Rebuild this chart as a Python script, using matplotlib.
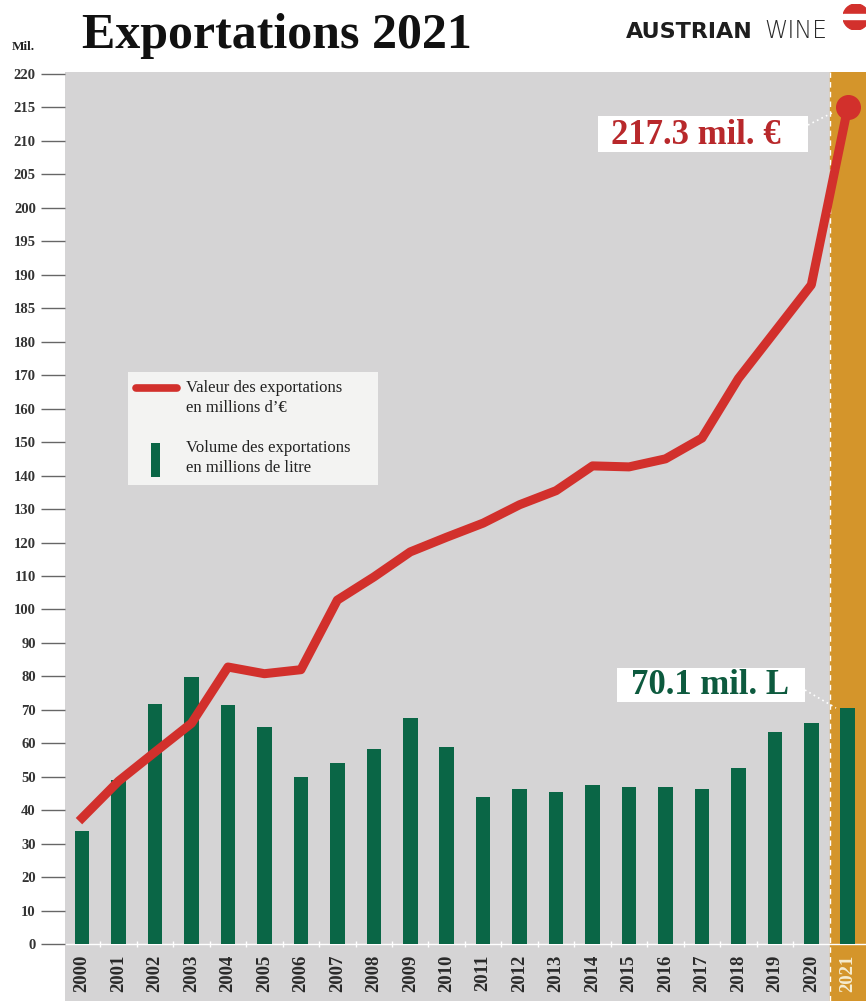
import numpy as np
import matplotlib
matplotlib.use('Agg')
import matplotlib.pyplot as plt
from matplotlib.patches import Rectangle, Wedge
from matplotlib.lines import Line2D

# data
years = list(range(2000, 2022))
valeur = [37.7, 48.7, 57.4, 66.0, 82.8, 80.8, 82.0, 102.8, 109.7, 117.2, 121.6,
          125.8, 131.3, 135.5, 142.9, 142.6, 145.0, 151.2, 169.0, 181.5, 188.5, 215.0]
volume = [33.8, 49.0, 71.7, 79.8, 71.4, 64.9, 49.9, 54.1, 58.3, 67.5, 59.0,
          43.9, 46.3, 45.4, 47.5, 46.9, 46.9, 46.3, 52.6, 63.4, 66.0, 70.6]
yticks = list(range(0, 181, 10)) + list(range(185, 221, 5))

W, H = 866, 1001
serif = 'Liberation Serif'
red = '#d2302c'
green = '#0a6646'
orange = '#d4952b'
grey = '#d5d4d5'


def fwd(v):
    v = np.asarray(v, dtype=float)
    return np.where(v <= 180, v / 10.0, 18 + (v - 180) / 5.0)


def inv(i):
    i = np.asarray(i, dtype=float)
    return np.where(i <= 18, i * 10.0, 180 + (i - 18) * 5.0)


def fx(x):
    return x / W


def fy(y):
    return 1 - y / H


fig = plt.figure(figsize=(W / 100, H / 100), dpi=100)
ax = fig.add_axes([fx(65), 0, 1 - fx(65), fy(72)])
ax.set_facecolor(grey)
ax.set_yscale('function', functions=(fwd, inv))
ax.set_ylim(-17.0, 220.3)
ax.set_xlim(1999.53, 2021.5)
for s in ax.spines.values():
    s.set_visible(False)

ax.axvspan(2020.5, 2021.5, color=orange, zorder=0)
ax.axvline(2020.5, color='white', ls=(0, (4, 3)), lw=1, zorder=1)

ax.bar(years, volume, width=0.4, color=green, zorder=2)
ax.plot(years, valeur, color=red, lw=6.5, zorder=3)
ax.plot(years[-1], valeur[-1], 'o', ms=17, color=red, zorder=4)

ax.axhline(0, color='white', lw=1, zorder=1)
ax.vlines(np.arange(2000.5, 2020.5, 1), -0.9, 0.9, color='white', lw=1, zorder=1)

ax.set_xticks([])
ax.set_yticks(yticks)
ax.set_yticklabels([str(t) for t in yticks], fontfamily=serif, fontweight='bold',
                   fontsize=10.5, color='#333333')
ax.tick_params(axis='y', length=17, width=1, color='#666666', pad=4)

for yr in years:
    ax.text(yr, -3.2, str(yr), rotation=90, ha='center', va='top', fontfamily=serif,
            fontweight='bold', fontsize=13.5,
            color='#f5ecd0' if yr == 2021 else '#2a2a2a')

# titles
fig.text(fx(82), fy(48), 'Exportations 2021', fontfamily=serif, fontweight='bold',
         fontsize=36, color='#111111', va='baseline')
fig.text(fx(12), fy(50), 'Mil.', fontfamily=serif, fontweight='bold', fontsize=9.5,
         color='#222222', va='baseline')
fig.text(fx(626), fy(38), 'AUSTRIAN', fontfamily='DejaVu Sans', fontweight='bold',
         fontsize=16, color='#1e1e1e', va='baseline')
fig.text(fx(764), fy(38), 'WINE', fontfamily='DejaVu Sans', fontweight='light',
         fontsize=17, color='#2a2a2a', va='baseline')

# logo
lax = fig.add_axes([fx(843), fy(30), fx(26), 26 / H])
lax.set_xlim(-1, 1)
lax.set_ylim(-1, 1)
lax.set_aspect('equal')
lax.axis('off')
lax.add_patch(Wedge((0, 0), 1, 0, 360, color=red))
lax.add_patch(Rectangle((-1, -0.15), 2, 0.35, color='white'))

# legend box
fig.add_artist(Rectangle((fx(128), fy(485)), fx(250), 113 / H, transform=fig.transFigure,
                         facecolor='#f3f3f2', edgecolor='none'))
fig.add_artist(Line2D([fx(136), fx(177)], [fy(388), fy(388)], color=red, lw=5.5,
                      solid_capstyle='round'))
fig.add_artist(Rectangle((fx(151), fy(477)), fx(9), 34 / H, transform=fig.transFigure,
                         facecolor=green, edgecolor='none'))
fig.text(fx(186), fy(398), 'Valeur des exportations\nen millions d\u2019\u20ac',
         fontfamily=serif, fontsize=12, color='#222222', va='center', linespacing=1.3)
fig.text(fx(186), fy(458), 'Volume des exportations\nen millions de litre',
         fontfamily=serif, fontsize=12, color='#222222', va='center', linespacing=1.3)

# value labels
fig.add_artist(Rectangle((fx(598), fy(152)), fx(210), 36 / H, transform=fig.transFigure,
                         facecolor='white', edgecolor='none'))
fig.text(fx(696), fy(135), '217.3 mil. \u20ac', fontfamily=serif, fontweight='bold',
         fontsize=25, color='#b8282b', ha='center', va='center')
fig.add_artist(Line2D([fx(808), fx(834)], [fy(125), fy(112)], color='white', lw=1.2,
                      ls=(0, (1, 2))))

fig.add_artist(Rectangle((fx(617), fy(702)), fx(188), 34 / H, transform=fig.transFigure,
                         facecolor='white', edgecolor='none'))
fig.text(fx(710), fy(686), '70.1 mil. L', fontfamily=serif, fontweight='bold',
         fontsize=25, color='#0d5a3e', ha='center', va='center')
fig.add_artist(Line2D([fx(805), fx(836)], [fy(690), fy(708)], color='white', lw=1.2,
                      ls=(0, (1, 2))))

fig.savefig('out.png', dpi=100, facecolor='white')
